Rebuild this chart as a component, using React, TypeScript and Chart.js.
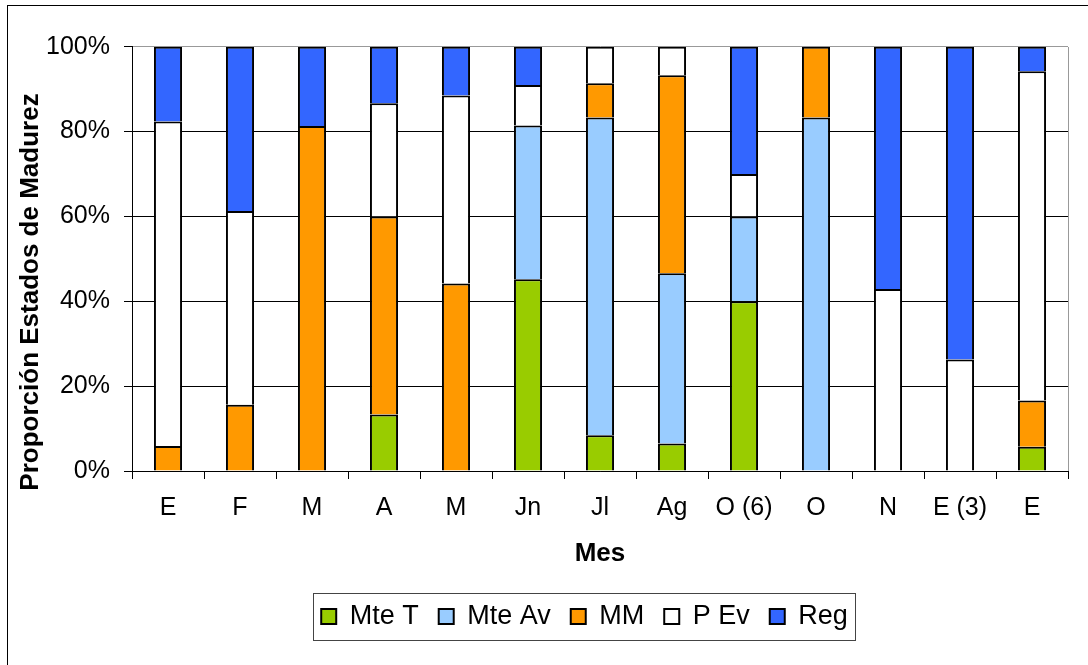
import { useEffect, useRef } from 'react';
import { Chart, registerables } from 'chart.js';

Chart.register(...registerables);

// Month labels along the x axis
const categories = ['E', 'F', 'M', 'A', 'M', 'Jn', 'Jl', 'Ag', 'O (6)', 'O', 'N', 'E (3)', 'E'];

// Share (%) of each maturity stage per month
const mteT = [0, 0, 0, 13.3, 0, 45.2, 8.4, 6.5, 40, 0, 0, 0, 5.7];
const mteAv = [0, 0, 0, 0, 0, 36.2, 74.9, 40.1, 20, 83.3, 0, 0, 0];
const mm = [5.9, 15.6, 81.3, 46.7, 44.2, 0, 8.1, 46.7, 0, 16.7, 0, 0, 10.9];
const pEv = [76.5, 45.7, 0, 26.7, 44.3, 9.6, 8.6, 6.7, 10, 0, 42.9, 26.3, 77.6];
const reg = [17.6, 38.7, 18.7, 13.3, 11.5, 9.0, 0, 0, 30, 0, 57.1, 73.7, 5.8];

const seriesNames = ['Mte T', 'Mte Av', 'MM', 'P Ev', 'Reg'];
const seriesColors = ['#99CC00', '#99CCFF', '#FF9900', '#FFFFFF', '#3366FF'];

const yTicks = [0, 20, 40, 60, 80, 100];
const yTitle = 'Proporción Estados de Madurez';
const xTitle = 'Mes';

const FONT = '"Liberation Sans", Arial, Helvetica, sans-serif';
const CW = 1080;
const CH = 659;
const PLOT_LEFT = 124;
const PLOT_TOP = 40.7;
const PLOT_BOTTOM = 465;
const LEGEND_CX = 576.5;
const LEGEND_TOP = 577;

export default function App() {
  const ref = useRef<HTMLCanvasElement>(null);

  useEffect(() => {
    const canvas = ref.current;
    if (!canvas) return;

    const decor = {
      id: 'decor',
      afterLayout(chart: any) {
        const lg = chart.legend;
        if (lg) {
          const h = lg.height;
          lg.left = LEGEND_CX - 600;
          lg.right = LEGEND_CX + 600;
          lg.width = 1200;
          lg.top = LEGEND_TOP;
          lg.bottom = LEGEND_TOP + h;
        }
      },
      afterDraw(chart: any) {
        const { ctx, chartArea } = chart;
        ctx.save();
        // grey right edge of the plot area
        const rx = Math.round(chartArea.right) + 0.5;
        ctx.strokeStyle = '#999999';
        ctx.lineWidth = 1;
        ctx.beginPath();
        ctx.moveTo(rx, Math.round(chartArea.top));
        ctx.lineTo(rx, Math.round(chartArea.bottom));
        ctx.stroke();
        // frame around the legend
        ctx.strokeStyle = '#444444';
        ctx.strokeRect(305.5, 587.5, 542, 47);
        // rotated y axis title
        ctx.translate(22.5, 286);
        ctx.rotate(-Math.PI / 2);
        ctx.font = `bold 26px ${FONT}`;
        ctx.fillStyle = '#000';
        ctx.textAlign = 'center';
        ctx.textBaseline = 'middle';
        ctx.fillText(yTitle, 0, 0);
        ctx.restore();
      },
    };

    const values = [mteT, mteAv, mm, pEv, reg];

    const chart = new Chart(canvas, {
      type: 'bar',
      data: {
        labels: categories,
        datasets: seriesNames.map((name, i) => ({
          label: name,
          data: values[i],
          backgroundColor: seriesColors[i],
          borderColor: '#000000',
          borderWidth: 2,
          barPercentage: 0.39,
          categoryPercentage: 1,
        })),
      },
      options: {
        responsive: false,
        maintainAspectRatio: false,
        animation: false,
        layout: { padding: { top: PLOT_TOP, right: 20, left: 0, bottom: 0 } },
        plugins: {
          tooltip: { enabled: false },
          title: { display: false },
          legend: {
            position: 'bottom',
            labels: {
              boxWidth: 15,
              boxHeight: 15,
              padding: 20,
              color: '#000',
              font: { family: FONT, size: 27 },
            },
          },
        },
        scales: {
          x: {
            stacked: true,
            offset: true,
            grid: {
              display: true,
              drawOnChartArea: false,
              drawTicks: true,
              tickLength: 8,
              offset: true,
              color: '#000',
            },
            border: { display: true, color: '#000', width: 1 },
            ticks: {
              color: '#000',
              padding: 14,
              maxRotation: 0,
              autoSkip: false,
              font: { family: FONT, size: 25 },
            },
            title: {
              display: true,
              text: xTitle,
              color: '#000',
              font: { family: FONT, size: 26, weight: 'bold' },
              padding: { top: 0, bottom: 39 },
            },
            afterFit(scale: any) {
              const lg = scale.chart.legend;
              const lh = lg ? lg.height : 57;
              scale.height = CH - lh - PLOT_BOTTOM;
            },
          },
          y: {
            stacked: true,
            min: 0,
            max: 100,
            afterBuildTicks(scale: any) {
              scale.ticks = yTicks.map((v) => ({ value: v }));
            },
            grid: {
              color: (c: any) => (c.tick && c.tick.value === 100 ? '#999999' : '#000000'),
              tickColor: '#000',
              tickLength: 8,
              lineWidth: 1,
            },
            border: { display: true, color: '#000', width: 1 },
            ticks: {
              color: '#000',
              padding: 14,
              font: { family: FONT, size: 25 },
              callback: (v: any) => `${v}%`,
            },
            title: { display: false },
            afterFit(scale: any) {
              scale.width = PLOT_LEFT;
            },
          },
        },
      },
      plugins: [decor],
    });

    return () => chart.destroy();
  }, []);

  return (
    <div
      style={{
        position: 'absolute',
        left: 0,
        top: 0,
        width: 1088,
        height: 665,
        overflow: 'hidden',
        background: '#fff',
      }}
    >
      <div
        style={{
          position: 'absolute',
          left: 7,
          top: 5,
          width: CW,
          height: CH,
          borderLeft: '1px solid #000',
          borderTop: '1px solid #000',
        }}
      >
        <canvas ref={ref} width={CW} height={CH} style={{ display: 'block', width: CW, height: CH }} />
      </div>
    </div>
  );
}
